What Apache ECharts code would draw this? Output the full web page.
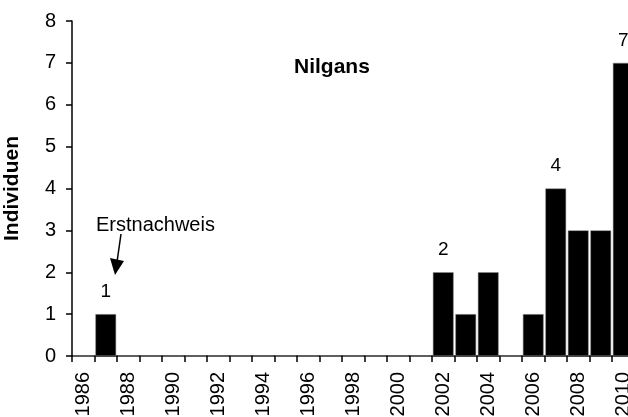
<!DOCTYPE html>
<html>
<head>
<meta charset="utf-8">
<script src="https://cdn.jsdelivr.net/npm/echarts@6/dist/echarts.min.js"></script>
<style>
  html, body { margin: 0; padding: 0; background: #fff; }
  #chart { width: 628px; height: 417px; }
</style>
</head>
<body>
<div id="chart"></div>
<script>
// years 1986..2010
const years = ['1986', '1987', '1988', '1989', '1990', '1991', '1992', '1993', '1994',
  '1995', '1996', '1997', '1998', '1999', '2000', '2001', '2002', '2003', '2004',
  '2005', '2006', '2007', '2008', '2009', '2010']
const individuen = [0, 1, 0, 0, 0, 0, 0, 0, 0, 0, 0, 0, 0, 0, 0, 0, 2, 1, 2, 0, 1, 4, 3, 3, 7]
// which bars get a number on top
const labelledYears = ['1987', '2002', '2007', '2010']

const font = 'Liberation Sans, Arial, sans-serif'
const chart = echarts.init(document.getElementById('chart'), null, { renderer: 'canvas' })

chart.setOption({
  animation: false,
  title: {
    text: 'Nilgans',
    left: 289,
    top: 52,
    textStyle: { fontFamily: font, fontSize: 21, fontWeight: 'bold', color: '#000' }
  },
  grid: {
    left: 72,
    top: 21,
    right: -6.5,
    height: 335,
    outerBoundsMode: 'none',
    containLabel: false
  },
  xAxis: {
    type: 'category',
    data: years,
    axisLine: { lineStyle: { color: '#000', width: 1.5 } },
    axisTick: { show: true, interval: 0, length: 6, lineStyle: { color: '#000', width: 1.5 } },
    axisLabel: {
      interval: 1,
      rotate: 90,
      margin: 16,
      fontFamily: font,
      fontSize: 20,
      color: '#000'
    }
  },
  yAxis: {
    type: 'value',
    min: 0,
    max: 8,
    interval: 1,
    name: 'Individuen',
    nameLocation: 'middle',
    nameRotate: 90,
    nameGap: 49,
    nameTextStyle: { fontFamily: font, fontSize: 21, fontWeight: 'bold', color: '#000' },
    axisLine: { show: true, lineStyle: { color: '#000', width: 1.5 } },
    axisTick: { show: true, length: 6, lineStyle: { color: '#000', width: 1.5 } },
    splitLine: { show: false },
    axisLabel: { margin: 16, fontFamily: font, fontSize: 20, color: '#000' }
  },
  series: [
    {
      type: 'bar',
      data: individuen,
      barCategoryGap: '8%',
      itemStyle: { color: '#000', borderColor: '#888', borderWidth: 0.5 },
      label: {
        show: true,
        position: 'top',
        distance: 13,
        fontFamily: font,
        fontSize: 19,
        color: '#000',
        formatter: (p) => labelledYears.includes(p.name) ? String(p.value) : ''
      }
    }
  ],
  graphic: [
    {
      type: 'text',
      left: 96,
      top: 215,
      style: { text: 'Erstnachweis', font: '20px ' + font, fill: '#000' }
    },
    {
      type: 'line',
      shape: { x1: 121, y1: 234, x2: 117, y2: 262 },
      style: { stroke: '#000', lineWidth: 1.5 }
    },
    {
      type: 'polygon',
      shape: { points: [[110, 258], [124, 261], [115, 275]] },
      style: { fill: '#000' }
    }
  ]
})
</script>
</body>
</html>
